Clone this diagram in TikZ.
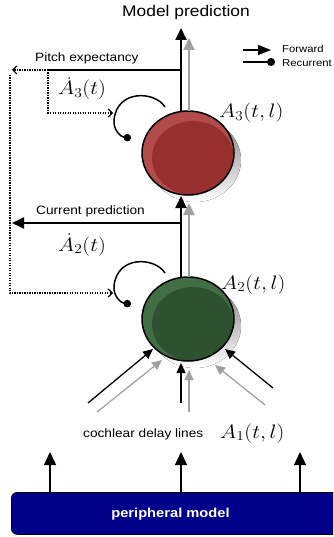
\RequirePackage{fix-cm}
\documentclass[tikz,border=0pt]{standalone}
\usepackage[no-math]{fontspec}
\setmainfont{Liberation Sans}
\usepackage{graphicx}
\usetikzlibrary{arrows.meta,shapes.geometric,calc}
\newcommand{\hs}[1]{\scalebox{1.13}[1]{#1}}
\definecolor{redlight}{HTML}{B24C4C}
\definecolor{reddark}{HTML}{972F2F}
\definecolor{greenlight}{HTML}{426E45}
\definecolor{greendark}{HTML}{2E5230}
\definecolor{shade}{HTML}{A3A3A3}
\definecolor{lgray}{HTML}{A0A0A0}
\definecolor{navyb}{HTML}{00008B}
\begin{document}
\begin{tikzpicture}[x=1pt,y=-1pt,
  txt/.style={inner sep=0pt,font=\fontsize{12.1}{14}\selectfont},
  smalltxt/.style={inner sep=0pt,font=\fontsize{10}{12}\selectfont},
  mlab/.style={inner sep=0pt,font=\fontsize{19.5}{23}\selectfont},
  ball/.style={ellipse,minimum width=92pt,minimum height=84pt,inner sep=0pt},
  outline/.style={line width=1.5pt},
  blk/.style={draw=black,line width=1.8pt,-{Triangle[length=12pt,width=11pt]}},
  gry/.style={draw=lgray,line width=1.8pt,-{Triangle[length=12pt,width=11pt]}},
  blkin/.style={draw=black,line width=1.3pt,-{Triangle[length=10pt,width=9pt]}},
  gryin/.style={draw=lgray,line width=1.3pt,-{Triangle[length=10pt,width=9pt]}},
  dots/.style={line width=1.3pt,dash pattern=on 1.2pt off 1.3pt,-{Straight Barb[length=4pt,width=8pt,line width=1.2pt]}},
  loop/.style={line width=1.5pt,-{Circle[length=7.5pt]}}
]
\useasboundingbox (0,0) rectangle (333,537);
\clip (0,0) rectangle (333,537);

% shadows
\fill[shade] (195,160) ellipse [x radius=46,y radius=42];
\fill[shade] (195,326) ellipse [x radius=46,y radius=42];

% top (red) unit
\node[ball,fill=redlight] (c3) at (188,153) {};
\begin{scope}
  \clip (188,153) ellipse [x radius=46,y radius=42];
  \fill[reddark] (193,158) ellipse [x radius=41,y radius=37];
\end{scope}
\draw[outline] (c3.center) ellipse [x radius=46,y radius=42];

% bottom (green) unit
\node[ball,fill=greenlight] (c2) at (188,319) {};
\begin{scope}
  \clip (188,319) ellipse [x radius=46,y radius=42];
  \fill[greendark] (193,324) ellipse [x radius=41,y radius=37];
\end{scope}
\draw[outline] (c2.center) ellipse [x radius=46,y radius=42];

% title and top outputs
\node[inner sep=0pt,font=\fontsize{15.4}{18}\selectfont,anchor=base] (title) at (186,16.5) {\hs{Model prediction}};
\coordinate (mp) at (181,28);
\coordinate (mpg) at (189,38);
\draw[gry] (c3.north -| mpg) -- (mpg);
\draw[blk] (c3.north -| mp) -- (mp);

% between units
\coordinate (m2) at (181,196);
\coordinate (m2g) at (189,203);
\draw[gry] (c2.north -| m2g) -- (m2g);
\draw[blk] (c2.north -| m2) -- (m2);

% pitch expectancy
\node[txt,anchor=base west] (pitch) at (35,62) {\hs{Pitch expectancy}};
\coordinate (pj) at (181,70);
\coordinate (pc) at (48,70);
\coordinate (pl) at (12,70);
\coordinate (r3) at (113,113);
\coordinate (lt) at (10,75);
\coordinate (r2) at (113,293);
\draw[line width=2pt] (pj) -- (pc);
\draw[dots] (pc) -- (pl);
\draw[dots] (pc) |- (r3);
\draw[dots] (lt) |- (r2);

% current prediction
\node[txt,anchor=base west] (curr) at (36,214) {\hs{Current prediction}};
\coordinate (cj) at (181,223);
\coordinate (cl) at (12,223);
\draw[blk] (cj) -- (cl);

% labels
\node[mlab,anchor=base west] (da3) at (58,95) {\hs{$\dot{A}_3(t)$}};
\node[mlab,anchor=base west] (da2) at (58,251) {\hs{$\dot{A}_2(t)$}};
\node[mlab,anchor=base west] (a3) at (219,118) {\hs{$A_3(t,l)$}};
\node[mlab,anchor=base west] (a2) at (221,289) {\hs{$A_2(t,l)$}};
\node[mlab,anchor=base west] (a1) at (220,438) {\hs{$A_1(t,l)$}};

% recurrent loops
\coordinate (l3s) at (165,107);
\coordinate (l3d) at (131,138);
\draw[loop] (l3s) .. controls (155,91) and (117,89) .. (114,120) .. controls (113,130) and (121,137) .. (l3d);
\coordinate (l2s) at (165,273);
\coordinate (l2d) at (131,304);
\draw[loop] (l2s) .. controls (155,257) and (117,255) .. (114,286) .. controls (113,296) and (121,303) .. (l2d);

% inputs to lower unit
\coordinate (i1) at (88,403);  \coordinate (t1) at (153,349);
\coordinate (i2) at (181,403); \coordinate (t2) at (181,363);
\coordinate (i3) at (273,388); \coordinate (t3) at (225,349);
\coordinate (g1) at (97,412);  \coordinate (u1) at (162,360);
\coordinate (g2) at (189,412); \coordinate (u2) at (189,370);
\coordinate (g3) at (265,405); \coordinate (u3) at (215,365);
\draw[gryin] (g1) -- (u1);
\draw[gryin] (g2) -- (u2);
\draw[gryin] (g3) -- (u3);
\draw[blkin] (i1) -- (t1);
\draw[blkin] (i2) -- (t2);
\draw[blkin] (i3) -- (t3);

\node[txt,anchor=base west] (coch) at (83,437) {\hs{cochlear delay lines}};

% peripheral model
\node[draw=black,line width=0.8pt,fill=navyb,rounded corners=6pt,minimum width=340pt,minimum height=42pt,anchor=north west,inner sep=0pt] (pm) at (11,492) {};
\node[inner sep=0pt,anchor=base,text=white,font=\fontsize{13}{15}\selectfont\bfseries] (pmt) at (170.5,517) {\hs{peripheral model}};
\coordinate (b1) at (50,452);
\coordinate (b2) at (181,452);
\coordinate (b3) at (300,452);
\draw[draw=black,line width=1.3pt,-{Triangle[length=13pt,width=12pt]}] (b1 |- pm.north) -- (b1);
\draw[draw=black,line width=1.3pt,-{Triangle[length=13pt,width=12pt]}] (b2 |- pm.north) -- (b2);
\draw[draw=black,line width=1.3pt,-{Triangle[length=13pt,width=12pt]}] (b3 |- pm.north) -- (b3);

% legend
\coordinate (f1) at (243,50); \coordinate (f2) at (271,50);
\coordinate (q1) at (243,62); \coordinate (q2) at (275,62);
\draw[line width=1.5pt,-{Triangle[length=13pt,width=10pt]}] (f1) -- (f2);
\draw[line width=1.5pt,-{Circle[length=8pt]}] (q1) -- (q2);
\node[smalltxt,anchor=base west] (fw) at (282,53) {\hs{Forward}};
\node[smalltxt,anchor=base west] (rc) at (282,67) {\hs{Recurrent}};
\end{tikzpicture}
\end{document}
